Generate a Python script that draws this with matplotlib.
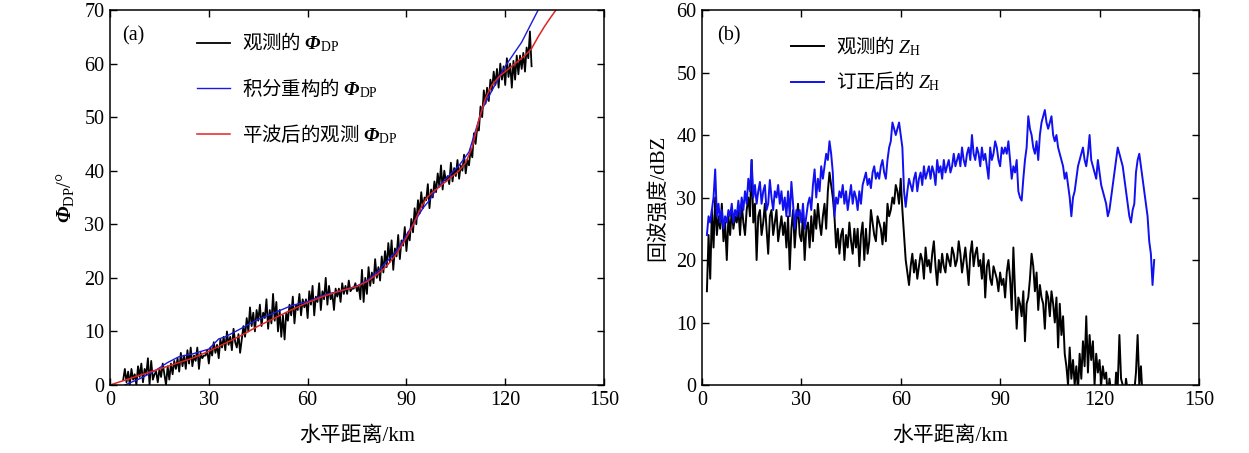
import numpy as np
import matplotlib
matplotlib.use("Agg")
import matplotlib.pyplot as plt

plt.rcParams["font.family"] = ["Liberation Serif", "Noto Sans CJK SC"]
plt.rcParams["mathtext.fontset"] = "custom"
plt.rcParams["mathtext.rm"] = "Liberation Serif"
plt.rcParams["mathtext.it"] = "Liberation Serif:italic"
plt.rcParams["mathtext.bf"] = "Liberation Serif:bold"
plt.rcParams["mathtext.bfit"] = "Liberation Serif:italic:bold"

# -------------------------------
# (a) differential phase, observed every 0.5 km from 4 km
# -------------------------------
phi_obs_start = 4.0
phi_obs_step = 0.5
phi_obs = [
    1, 3, 0.5, 2.5, 0, 3, 1, 2, 0, 3.5,
    1.5, 4, 0.5, 3, 2, 5, 0, 4.5, 1, 2,
    2.5, 0.5, 3, 1.5, 4, 2, 0, 3.5, 1, 4,
    2, 4.5, 3, 5, 2.5, 6, 3.5, 5.5, 3, 6.5,
    4, 7, 3.5, 5.5, 4.5, 7, 3, 6, 5, 5.5,
    5.5, 6.5, 4, 7, 5.5, 8, 6, 7.5, 5, 8.5,
    7, 9, 6.5, 10, 7.5, 9, 6.5, 10.5, 8, 7,
    9.5, 6, 8.5, 11, 9, 12.5, 10, 14.5, 11, 13.5,
    10, 14, 12, 15, 11, 13.5, 12.5, 16, 10.5, 14,
    11.5, 17, 12, 15.5, 10, 14, 9, 13, 8.5, 13.5,
    12, 15, 13, 16.5, 11.5, 15, 14, 17, 13, 16,
    14.5, 16, 12.5, 17.5, 15, 18.5, 13, 16.5, 15.5, 19,
    14, 17.5, 16, 20, 15, 18.5, 16, 17, 14, 18,
    16.5, 18, 15.5, 19, 17, 18.5, 17, 19.5, 17.5, 18,
    18, 19, 17.5, 18.5, 16, 21.5, 15.5, 20, 17, 22,
    18.5, 21, 19, 23.5, 20, 22, 19.5, 24, 21, 25,
    22, 26.5, 23, 27, 21.5, 25.5, 24, 28, 23.5, 27,
    26, 29.5, 25, 28.5, 27, 31, 28.5, 33, 30, 34.5,
    32, 36, 33, 35, 34.5, 37.5, 33, 36.5, 35, 38,
    36, 39.5, 37, 41, 36.5, 40, 38, 39, 37.5, 41.5,
    38, 40.5, 39, 42, 38.5, 41, 40, 43, 39.5, 42,
    41, 44, 42.5, 47, 45, 48, 47.5, 52, 50, 55,
    52.5, 55.5, 53, 57, 55, 58.5, 56, 59, 55.5, 60,
    57, 59.5, 56, 61, 57.5, 60, 55.5, 60.5, 57, 61.5,
    58, 61.5, 59, 62, 58.5, 63, 61, 66, 59.5,
]

phi_rec_x = [4.5, 9.5, 14, 17.5, 21, 25, 30, 33, 35, 40, 44, 50, 55, 60, 66, 70,
             75, 78, 81, 84, 87, 90, 93, 95, 97, 99, 102, 106, 109, 111, 113,
             116, 120, 125, 130, 131]
phi_rec = [0, 1.3, 2.8, 4.2, 5.3, 5.8, 6.7, 8.6, 9, 10.6, 12, 13.5, 14.8, 15.6,
           17, 17.5, 18.5, 19.5, 21, 23, 25, 28, 31, 33, 34.5, 36.5, 38.5, 41,
           43.5, 47.5, 51.5, 55, 59.5, 64, 70, 71.5]

phi_smooth_x = [0, 5, 10, 15, 20, 25, 30, 35, 40, 45, 50, 55, 60, 65, 70, 75, 78,
                81, 84, 87, 90, 92, 94, 96, 98, 100, 103, 106, 108, 110, 112,
                114, 116, 118, 120, 123, 126, 128, 130, 132, 134, 136]
phi_smooth = [0, 1, 2, 3, 4, 5, 6.3, 7.8, 9.3, 11, 12.5, 14, 15.4, 16.6, 17.6,
              18.4, 19.3, 20.6, 22.2, 24.5, 27.5, 29.8, 32.6, 34.8, 36, 37,
              38.5, 40, 41.5, 44.4, 49.5, 53.5, 56, 57.5, 58.5, 60, 61.5, 62.8,
              65, 67, 68.8, 70.5]

# -------------------------------
# (b) reflectivity every 0.5 km from 1.5 km
# -------------------------------
zh_start = 1.5
zh_step = 0.5
zh_obs = [
    15, 24, 17, 28, 22, 30, 24, 27, 25, 29,
    23, 26, 20, 27, 24, 28, 25, 27, 26, 28,
    24, 29, 26, 24, 28, 30, 27, 36, 26, 29,
    20, 27, 28, 24, 26, 29, 25, 21, 27, 28,
    24, 26, 28, 23, 25, 27, 24, 26, 22, 27,
    18.5, 25, 28, 22, 26, 29, 24, 23, 27, 20,
    25, 26, 22, 27, 23, 28, 25, 29, 26, 24,
    27, 29, 25, 31, 34, 32, 30, 27, 22, 25,
    21, 24, 25, 20, 24, 22, 26, 23, 21, 25,
    22, 25, 19, 24, 26, 20, 25, 21, 23, 28,
    26, 24, 23, 27, 26, 25, 22.5, 26, 23, 29,
    27, 28, 30, 29, 32, 31, 29, 33, 28, 24,
    20, 18, 16, 19, 21, 18, 20, 17, 19, 21,
    20, 17, 22, 19, 20, 18, 21, 23, 19, 16,
    20, 18, 21, 19, 18, 21, 20, 19, 22, 21,
    19, 20, 23, 21, 18, 20, 22, 19, 16, 21,
    23, 19, 21, 22, 19, 20, 17, 21, 14, 19,
    20, 17, 16, 19, 18, 17, 15, 18, 16, 17,
    14, 18, 20, 17, 12, 22, 15, 9, 14, 13,
    11, 15, 7, 13, 14, 17, 21, 19, 15, 18,
    12, 16, 14, 13, 9, 15, 14, 11, 15, 13,
    10, 14, 6, 13, 8, 11, 5, 3, 0, 6,
    1, 4, 0, 3, -1, 5, 1, 7, 3, 11,
    2, 8, 4, 7, 0, 5, 2, 4, 0, 3,
    1, 2, -2, 1, -1, 0, -3, 2, 0, 8,
    1, 0, -2, 1, -1, 0, -3, 0, -1, 2,
    8, 0, 3, -2,
]
zh_corr = [
    24, 27, 26, 28, 30, 34.5, 27, 29, 26, 28,
    25, 27, 26, 28, 27, 29, 26, 28, 27, 29.5,
    27, 30, 28, 31, 29, 33, 31, 36, 30, 32,
    29, 31, 32.5, 29, 31, 32, 28, 29, 32.8, 30,
    28, 31, 30, 32, 29, 31, 28, 30, 27, 31,
    27, 32.5, 29, 25, 28, 27, 28, 26, 29, 25,
    27, 29, 30, 28, 32, 34.5, 30, 33, 31, 35,
    33, 35, 37, 36, 39, 37, 34, 27, 30, 29,
    31, 30, 32, 29, 31, 28, 30, 32, 29, 31,
    30, 28, 31, 29, 32, 33, 34, 32, 33, 31.5,
    34, 35, 33, 34, 33, 35, 36, 34, 33, 36,
    38, 39, 42, 41, 40, 41, 42, 40, 38, 31,
    28.5, 31, 33, 32, 31, 33, 34, 31, 33, 34,
    32, 35, 33, 34, 35, 33, 35, 34, 32, 36,
    34, 35, 33, 36, 34, 35, 36, 34, 35, 37,
    35, 36, 37, 35, 38, 36, 35, 37, 38, 36,
    40, 37, 36, 38, 37, 35, 38, 36, 37, 35,
    33, 38, 36, 37, 39, 38, 36, 35, 38, 37,
    38, 37, 39, 36, 33, 35, 34, 36, 31, 30,
    29.5, 33, 36, 38, 43, 41, 40, 38, 37, 39,
    36, 40, 42, 43, 44, 42, 41, 42, 43, 40,
    39, 40, 38, 37, 36, 35, 33, 34, 32, 30,
    27, 30, 31, 33, 35, 36, 37, 38, 36, 35,
    37, 40, 36, 35, 34, 33, 36, 34, 32, 31,
    30, 29, 27, 28, 30, 32, 34, 36, 38, 37,
    36, 35, 33, 31, 29, 27, 26, 28, 29, 34,
    36, 37, 35, 33, 31, 29, 27, 23, 21, 16,
    20,
]

x_ticks = [0, 30, 60, 90, 120, 150]
xlabel = "水平距离/km"

tick_size = 14.5
label_size = 15
legend_font = {"family": "Noto Sans CJK SC", "size": 14}


def sample_x(start, step, values):
    return start + step * np.arange(len(values))


def style_axes(ax, ymax, ystep):
    ax.set_xlim(0, 150)
    ax.set_ylim(0, ymax)
    ax.set_xticks(x_ticks)
    ax.set_yticks(np.arange(0, ymax + 1, ystep))
    ax.tick_params(direction="in", top=True, right=True, length=5, width=1.0,
                   labelsize=tick_size, pad=4)
    for sp in ax.spines.values():
        sp.set_linewidth(1.1)
    ax.set_xlabel(xlabel, fontsize=label_size, labelpad=12)


fig = plt.figure(figsize=(12.49, 4.53), dpi=100)
ax1 = fig.add_axes([0.0881, 0.1501, 0.3955, 0.8278])
ax2 = fig.add_axes([0.5620, 0.1501, 0.3979, 0.8278])

# panel (a)
ax1.plot(sample_x(phi_obs_start, phi_obs_step, phi_obs), phi_obs, color="black",
         lw=1.3, label=r"观测的 $\mathbfit{\Phi}_{\mathrm{DP}}$")
ax1.plot(phi_rec_x, phi_rec, color="#1a1ae0", lw=1.0,
         label=r"积分重构的 $\mathbfit{\Phi}_{\mathrm{DP}}$")
ax1.plot(phi_smooth_x, phi_smooth, color="#e02424", lw=1.1,
         label=r"平波后的观测 $\mathbfit{\Phi}_{\mathrm{DP}}$")
style_axes(ax1, 70, 10)
ax1.set_ylabel(r"$\mathbfit{\Phi}_{\mathrm{DP}}$/°", fontsize=label_size, labelpad=6)
ax1.text(0.025, 0.93, "(a)", transform=ax1.transAxes, fontsize=tick_size, va="center")
ax1.legend(loc="upper left", bbox_to_anchor=(0.176, 0.945), frameon=False,
           prop=legend_font, handlelength=1.7, handletextpad=0.6,
           labelspacing=1.15, borderpad=0, borderaxespad=0)

# panel (b)
ax2.plot(sample_x(zh_start, zh_step, zh_obs), zh_obs, color="black", lw=1.4,
         label=r"观测的 $Z_{\mathrm{H}}$")
ax2.plot(sample_x(zh_start, zh_step, zh_corr), zh_corr, color="#1010f0", lw=1.4,
         label=r"订正后的 $Z_{\mathrm{H}}$")
style_axes(ax2, 60, 10)
ax2.set_ylabel("回波强度/dBZ", fontsize=label_size, labelpad=6)
ax2.text(0.03, 0.93, "(b)", transform=ax2.transAxes, fontsize=tick_size, va="center")
ax2.legend(loc="upper left", bbox_to_anchor=(0.179, 0.935), frameon=False,
           prop=legend_font, handlelength=1.7, handletextpad=0.6,
           labelspacing=0.62, borderpad=0, borderaxespad=0)

fig.savefig("out.png", dpi=100)
